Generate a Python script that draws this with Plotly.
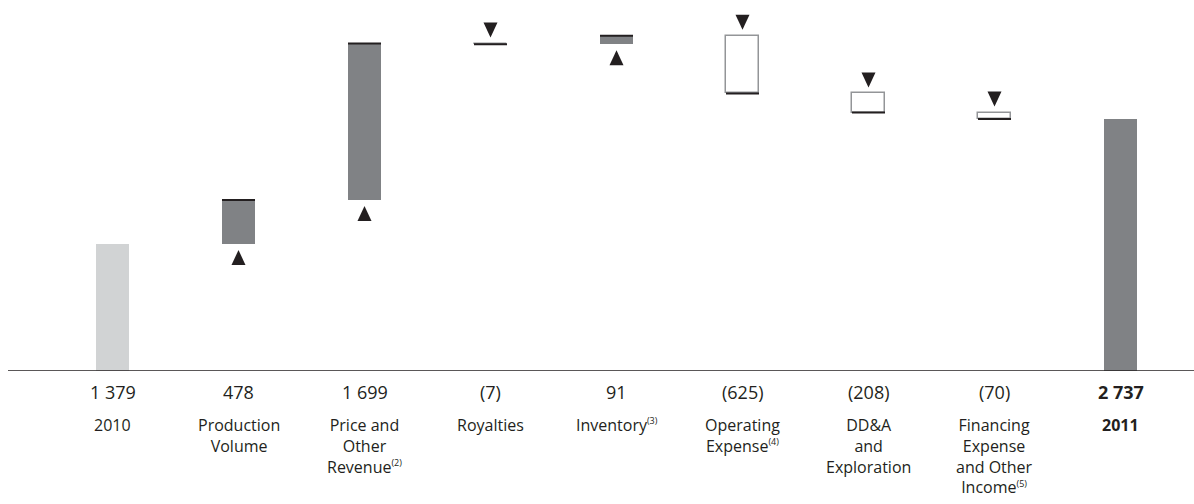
import plotly.graph_objects as go

# Net earnings walk, 2010 -> 2011 (millions)
def note(n):
    return f"<sup><span style='font-size:9px'>({n})</span></sup>"

categories = ["2010", "Production<br>Volume", "Price and<br>Other<br>Revenue" + note(2),
              "Royalties", "Inventory" + note(3), "Operating<br>Expense" + note(4),
              "DD&A<br>and<br>Exploration", "Financing<br>Expense<br>and Other<br>Income" + note(5),
              "<b>2011</b>"]
changes = [1379, 478, 1699, -7, 91, -625, -208, -70, 2737]
kinds = ["total", "delta", "delta", "delta", "delta", "delta", "delta", "delta", "total"]

FONT = "Open Sans"
INK = "#231f20"
DARK_BAR = "#808285"
LIGHT_BAR = "#d1d3d4"
OUTLINE = "#939598"
BAR_W = 0.262

def fmt(v, bold=False):
    s = f"{abs(v):,}".replace(",", " ")
    s = f"({s})" if v < 0 else s
    return f"<b>{s}</b>" if bold else s

xs = list(range(len(categories)))
bases, heights, lines = [], [], []
running = 0
for k, v in zip(kinds, changes):
    if k == "total":
        bases.append(0)
        heights.append(v)
        running = v
        lines.append(0)
    else:
        if v >= 0:
            bases.append(running)
            heights.append(v)
        else:
            bases.append(running + v)
            heights.append(-v)
        running += v
        lines.append(1.5 if v < 0 else 0)

fills = []
for i, (k, v) in enumerate(zip(kinds, changes)):
    if k == "total":
        fills.append(LIGHT_BAR if i == 0 else DARK_BAR)
    else:
        fills.append(DARK_BAR if v >= 0 else "white")

fig = go.Figure()
fig.add_trace(go.Bar(
    x=xs, y=heights, base=bases, width=BAR_W,
    marker=dict(color=fills, line=dict(color=OUTLINE, width=lines)),
    hoverinfo="skip", showlegend=False,
))

shapes = []
# dark edge at the new level of each change, plus direction arrow
level = 0
for i, (k, v) in enumerate(zip(kinds, changes)):
    if k == "total":
        level = v
        continue
    prev = level
    level = prev + v
    shapes.append(dict(type="line", xref="x", yref="y",
                       x0=i - BAR_W / 2, x1=i + BAR_W / 2, y0=level, y1=level,
                       line=dict(color=INK, width=2)))
    if v >= 0:
        path = "M-7,-21 L7,-21 L0,-6 Z"
    else:
        path = "M-7,21 L7,21 L0,6 Z"
    shapes.append(dict(type="path", xref="x", yref="y",
                       xsizemode="pixel", ysizemode="pixel",
                       xanchor=i, yanchor=prev, path=path,
                       fillcolor=INK, line=dict(width=0)))

# baseline
shapes.append(dict(type="line", xref="paper", yref="y", x0=0, x1=1, y0=0, y1=0,
                   line=dict(color=INK, width=1.5)))

annotations = []
for i, (c, v) in enumerate(zip(categories, changes)):
    annotations.append(dict(x=i, y=0, xref="x", yref="y", text=fmt(v, bold=(i == len(changes) - 1)),
                            showarrow=False, yanchor="middle", yshift=-21,
                            font=dict(family=FONT, size=18, color=INK)))
    annotations.append(dict(x=i, y=0, xref="x", yref="y", text=c,
                            showarrow=False, yanchor="top", yshift=-41, align="center",
                            font=dict(family=FONT, size=16, color=INK)))

fig.update_layout(
    width=1194, height=504,
    margin=dict(l=8, r=0, t=5, b=133),
    paper_bgcolor="white", plot_bgcolor="white",
    xaxis=dict(range=[-0.8294, 8.5833], visible=False, fixedrange=True),
    yaxis=dict(range=[0, 3975], visible=False, fixedrange=True),
    shapes=shapes, annotations=annotations,
    bargap=0,
)

fig.write_html("out.html")
